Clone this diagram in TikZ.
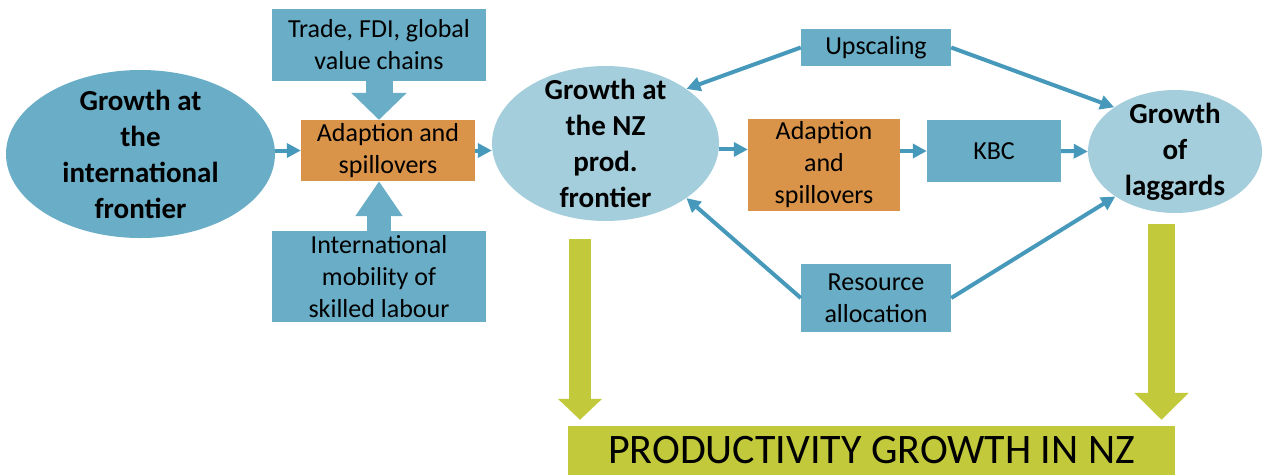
\documentclass[tikz,border=0pt]{standalone}
\usepackage{fontspec}
\setmainfont{Carlito}
\usetikzlibrary{shapes.geometric}
\usetikzlibrary{arrows.meta}
\usetikzlibrary{calc}
\definecolor{boxblue}{HTML}{69ADC6}
\definecolor{paleblue}{HTML}{A4CEDC}
\definecolor{spillorange}{HTML}{DA944A}
\definecolor{linkblue}{HTML}{4699BB}
\definecolor{lime}{HTML}{C2CA3B}
\tikzset{box/.style={rectangle,fill=#1,inner sep=0pt,align=center,
			font=\fontsize{26}{32}\selectfont},
		 box/.default=boxblue}
\tikzset{blob/.style={ellipse,fill=#1,inner sep=0pt},
		 blob/.default=paleblue}
\tikzset{bold text/.style={align=center,font=\fontsize{29}{36}\selectfont\bfseries}}
\tikzset{link/.style={draw=linkblue,line width=4pt,-{Triangle[length=14pt,width=14pt]}}}

\begin{document}
\begin{tikzpicture}[x=1pt,y=-1pt]
	\useasboundingbox (0,0) rectangle (1271,475);
	% growth nodes
	\node[blob=boxblue,minimum width=269,minimum height=168,
		label={[bold text]center:Growth at\\the\\international\\frontier}] (intl) at (140.5,154) {};
	\node[blob,minimum width=227,minimum height=155,
		label={[bold text]center:Growth at\\the NZ\\prod.\\frontier}] (nzfront) at (605.5,143.5) {};
	\node[blob,minimum width=174,minimum height=123,
		label={[bold text]center:Growth\\of\\laggards}] (laggards) at (1175,151.5) {};
	% channels
	\node[box,minimum width=214,minimum height=72] (trade) at (379,45) {Trade, FDI, global\\value chains};
	\node[box=spillorange,minimum width=174,minimum height=61] (adapt1) at (388,150.5) {Adaption and\\spillovers};
	\node[box,minimum width=214,minimum height=91] (mobility) at (379,276.5) {International\\mobility of\\skilled labour};
	\node[box=spillorange,minimum width=152,minimum height=92] (adapt2) at (824,165) {Adaption\\and\\spillovers};
	\node[box,minimum width=134,minimum height=62] (kbc) at (994,151) {KBC};
	\node[box,minimum width=150,minimum height=37] (upscaling) at (876,47.5) {Upscaling};
	\node[box,minimum width=150,minimum height=68] (resource) at (876,298) {Resource\\allocation};
	\node[box=lime,minimum width=607,minimum height=49,font=\fontsize{42}{50}\selectfont]
		(prod) at (871.5,450.5) {PRODUCTIVITY GROWTH IN NZ};
	% fat arrows into the first spillover box
	\draw[boxblue,line width=27pt,-{Triangle[length=27pt,width=54pt]}]
		(trade.south) -- (trade.south |- adapt1.north);
	\draw[boxblue,line width=24pt,-{Triangle[length=35pt,width=45pt]}]
		(mobility.north) -- (mobility.north |- adapt1.south);
	% thin links
	\draw[link] (adapt1.west -| intl.east) -- (adapt1.west);
	\draw[link] (adapt1.east) -- (adapt1.east -| nzfront.west);
	\draw[link] (nzfront.-3) -- (nzfront.-3 -| adapt2.west);
	\draw[link] (kbc.west -| adapt2.east) -- (kbc.west);
	\draw[link] (kbc.east) -- (laggards.west);
	\draw[link] (upscaling.west) -- (nzfront.34);
	\draw[link] (upscaling.east) -- (laggards.144);
	\draw[link] (resource.west) -- (nzfront.-34);
	\draw[link] (resource.east) -- (laggards.-143);
	% down to productivity
	\coordinate (drop1) at ($(nzfront.south)+(-25.5,18)$);
	\coordinate (drop2) at ($(laggards.south)+(-13.5,11)$);
	\draw[lime,line width=22pt,-{Triangle[length=21pt,width=43pt]},shorten >=6pt]
		(drop1) -- (drop1 |- prod.north);
	\draw[lime,line width=27pt,-{Triangle[length=27pt,width=53pt]},shorten >=6pt]
		(drop2) -- (drop2 |- prod.north);
\end{tikzpicture}
\end{document}
